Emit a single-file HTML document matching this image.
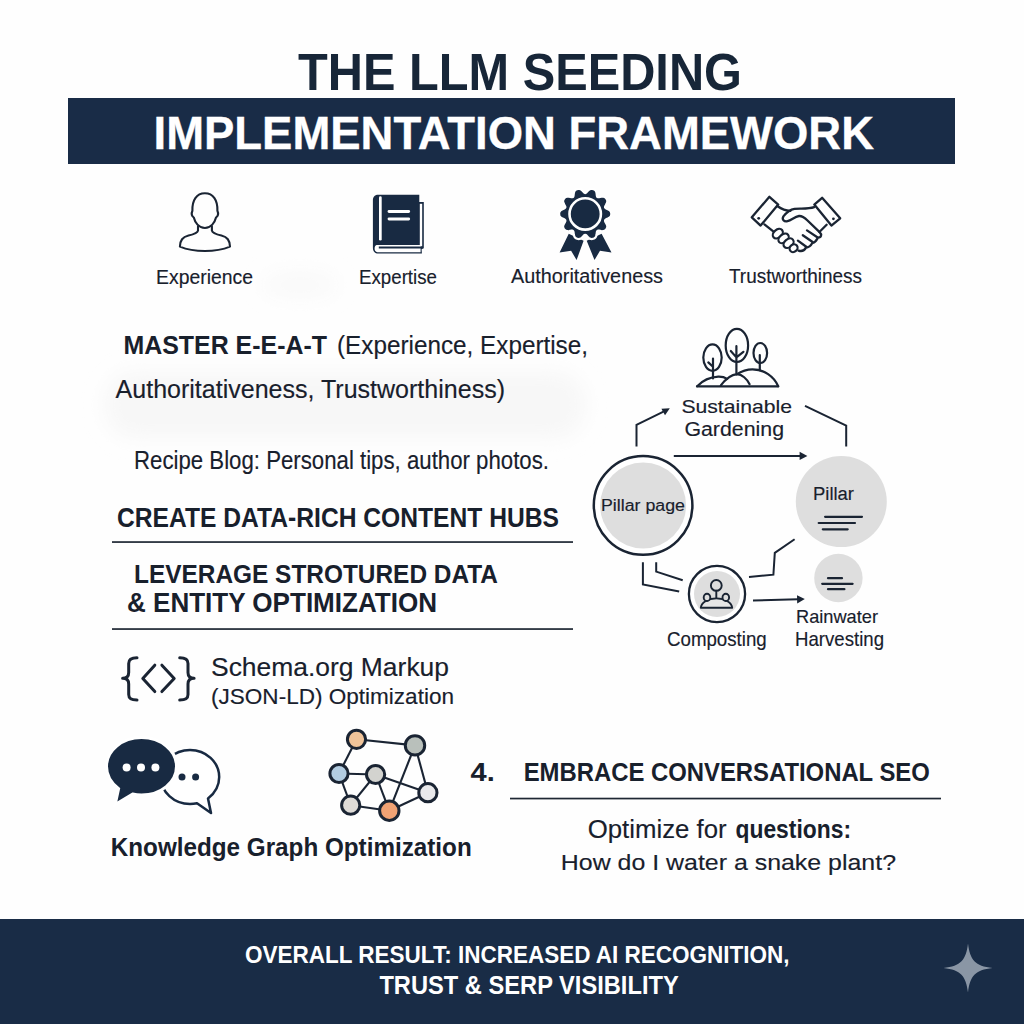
<!DOCTYPE html>
<html><head><meta charset="utf-8"><style>
html,body{margin:0;padding:0;background:#ffffff;overflow:hidden;width:1024px;height:1024px;}
svg{display:block;}
text{font-family:"Liberation Sans",sans-serif;}
</style></head><body>
<svg width="1024" height="1024" viewBox="0 0 1024 1024">
<rect width="1024" height="1024" fill="#fefefe"/>
<defs><filter id="bl" x="-20%" y="-50%" width="140%" height="200%"><feGaussianBlur stdDeviation="10"/></filter></defs>
<rect x="105" y="372" width="480" height="66" rx="30" fill="#f7f7f7" filter="url(#bl)"/>
<ellipse cx="300" cy="285" rx="38" ry="14" fill="#f9f9f9" filter="url(#bl)"/>
<rect x="68" y="98" width="887" height="66" fill="#192c47"/>
<rect x="0" y="919" width="1024" height="105" fill="#192c46"/>
<path d="M968 943.5 C970 960 975 966 992.5 968 C975 970 970 976 968 992.5 C966 976 961 970 943.5 968 C961 966 966 960 968 943.5Z" fill="#8a96a5"/>
<rect x="112" y="541.2" width="461" height="1.7" fill="#1e2733"/>
<rect x="112" y="628.2" width="461" height="1.7" fill="#1e2733"/>
<rect x="510" y="797.7" width="431" height="1.7" fill="#1e2733"/>
<g fill="none" stroke="#1a2433" stroke-width="2.1" stroke-linejoin="round" stroke-linecap="round">
<path d="M193.8 217.5 C192 216.2 191.2 213.5 192.4 210.8 C192 200.5 196.5 193.2 204.9 193.2 C213.3 193.2 217.8 200.5 217.4 210.8 C218.6 213.5 217.8 216.2 216 217.5 C214.8 222.5 211 228 204.9 228 C198.8 228 195 222.5 193.8 217.5 Z"/>
<path d="M198 226.2 L198 230.6 C197.5 233 194 234.2 188.5 235.6 C182.5 237.2 180.2 240 179.9 246.6 C188 250 197 251 204.9 251 C212.8 251 221.8 250 230 246.6 C229.7 240 227.4 237.2 221.4 235.6 C215.9 234.2 212.4 233 211.9 230.6 L211.9 226.2"/>
</g>
<path d="M377.9 194.8 H419.3 V202 H423.8 V248.2 L421.6 249.2 L421.9 253.6 H378.2 C375 253.6 372.9 251.2 372.9 248 V200.2 C372.9 197 375 194.8 377.9 194.8 Z" fill="#182a42"/>
<rect x="419.8" y="203.8" width="2.4" height="42.4" fill="#fff"/>
<path d="M376.5 244.9 H420.6 V246.6 H378.8 V248.6 H420.6 V252.2 H377.4 C375.6 252.2 374.6 250.6 374.6 248.6 C374.6 246.6 375.3 245.2 376.5 244.9 Z" fill="#fff"/>
<rect x="379" y="196.2" width="2.7" height="44.4" rx="1.3" fill="#fff"/>
<rect x="387.6" y="209.9" width="22.5" height="3.1" rx="1.4" fill="#fff"/>
<rect x="387.6" y="217.4" width="22.5" height="3.1" rx="1.4" fill="#fff"/>
<path d="M568.75 233.8 L583.6 240.8 L576.6 260 L571.1 250.8 L559.6 252.4 Z" fill="#182a42"/>
<path d="M601.6 233.8 L586.7 240.8 L594.5 260 L600 250.8 L611.5 252.4 Z" fill="#182a42"/>
<path d="M611.30,213.90 L611.26,213.08 L611.10,212.27 L610.77,211.48 L610.21,210.74 L609.40,210.07 L608.38,209.48 L607.28,208.96 L606.26,208.49 L605.48,208.01 L605.08,207.44 L605.07,206.74 L605.42,205.90 L605.97,204.91 L606.55,203.85 L607.03,202.78 L607.29,201.76 L607.31,200.83 L607.11,200.00 L606.76,199.25 L606.32,198.56 L605.80,197.92 L605.19,197.36 L604.46,196.92 L603.58,196.64 L602.52,196.58 L601.36,196.70 L600.16,196.93 L599.06,197.15 L598.15,197.21 L597.48,196.99 L597.07,196.43 L596.85,195.54 L596.72,194.42 L596.57,193.22 L596.32,192.07 L595.93,191.09 L595.40,190.33 L594.75,189.77 L594.03,189.37 L593.27,189.08 L592.47,188.87 L591.65,188.77 L590.80,188.84 L589.92,189.14 L589.03,189.70 L588.16,190.49 L587.33,191.37 L586.57,192.20 L585.86,192.79 L585.20,193.00 L584.54,192.79 L583.83,192.20 L583.07,191.37 L582.24,190.49 L581.37,189.70 L580.48,189.14 L579.60,188.84 L578.75,188.77 L577.93,188.87 L577.13,189.08 L576.37,189.37 L575.65,189.77 L575.00,190.33 L574.47,191.09 L574.08,192.07 L573.83,193.22 L573.68,194.42 L573.55,195.54 L573.33,196.43 L572.92,196.99 L572.25,197.21 L571.34,197.15 L570.24,196.93 L569.04,196.70 L567.88,196.58 L566.82,196.64 L565.94,196.92 L565.21,197.36 L564.60,197.92 L564.08,198.56 L563.64,199.25 L563.29,200.00 L563.09,200.83 L563.11,201.76 L563.37,202.78 L563.85,203.85 L564.43,204.91 L564.98,205.90 L565.33,206.74 L565.32,207.44 L564.92,208.01 L564.14,208.49 L563.12,208.96 L562.02,209.48 L561.00,210.07 L560.19,210.74 L559.63,211.48 L559.30,212.27 L559.14,213.08 L559.10,213.90 L559.14,214.72 L559.30,215.53 L559.63,216.32 L560.19,217.06 L561.00,217.73 L562.02,218.32 L563.12,218.84 L564.14,219.31 L564.92,219.79 L565.32,220.36 L565.33,221.06 L564.98,221.90 L564.43,222.89 L563.85,223.95 L563.37,225.02 L563.11,226.04 L563.09,226.97 L563.29,227.80 L563.64,228.55 L564.08,229.24 L564.60,229.88 L565.21,230.44 L565.94,230.88 L566.82,231.16 L567.88,231.22 L569.04,231.10 L570.24,230.87 L571.34,230.65 L572.25,230.59 L572.92,230.81 L573.33,231.37 L573.55,232.26 L573.68,233.38 L573.83,234.58 L574.08,235.73 L574.47,236.71 L575.00,237.47 L575.65,238.03 L576.37,238.43 L577.13,238.72 L577.93,238.93 L578.75,239.03 L579.60,238.96 L580.48,238.66 L581.37,238.10 L582.24,237.31 L583.07,236.43 L583.83,235.60 L584.54,235.01 L585.20,234.80 L585.86,235.01 L586.57,235.60 L587.33,236.43 L588.16,237.31 L589.03,238.10 L589.92,238.66 L590.80,238.96 L591.65,239.03 L592.47,238.93 L593.27,238.72 L594.03,238.43 L594.75,238.03 L595.40,237.47 L595.93,236.71 L596.32,235.73 L596.57,234.58 L596.72,233.38 L596.85,232.26 L597.07,231.37 L597.48,230.81 L598.15,230.59 L599.06,230.65 L600.16,230.87 L601.36,231.10 L602.52,231.22 L603.58,231.16 L604.46,230.88 L605.19,230.44 L605.80,229.88 L606.32,229.24 L606.76,228.55 L607.11,227.80 L607.31,226.97 L607.29,226.04 L607.03,225.02 L606.55,223.95 L605.97,222.89 L605.42,221.90 L605.07,221.06 L605.08,220.36 L605.48,219.79 L606.26,219.31 L607.28,218.84 L608.38,218.32 L609.40,217.73 L610.21,217.06 L610.77,216.32 L611.10,215.53 L611.26,214.72Z" fill="#182a42" stroke="#fff" stroke-width="2.2"/>
<circle cx="585.2" cy="213.9" r="15.7" fill="none" stroke="#fff" stroke-width="2.6"/>
<g fill="none" stroke="#1a2433" stroke-width="2.3" stroke-linejoin="round" stroke-linecap="round">
<path d="M751.8 217.3 L769.4 196.8 L778.2 204.6 L760.6 225.6 Z"/>
<path d="M822.1 197.8 L840.2 218.3 L831.4 225.6 L814.3 204.6 Z"/>
<path d="M777.6 206.2 C781.5 209 785.5 210.6 790.5 210.8"/>
<path d="M814.2 207.2 C808 209.4 800 208.2 794.5 208.8 C790 209.4 786 213 783.4 216.4 C781.6 219.4 784 222 787.5 221.2 C791.5 220.4 794.5 216.6 799 216 C802.5 215.8 805 218 807.5 220.5 L819.6 232.2"/>
<path d="M826.6 224.8 L819.6 231.8"/>
<path d="M764.4 224.4 L774.2 232.2"/>
<path d="M819.6 232.2 C822 234.5 821.5 237.5 818 237.6 C816.5 240 815.6 242.8 812.5 242.8 C811 245.5 809.5 247.6 806 247.6 C804.5 250.4 801.5 251.6 798.5 250.6"/>
<path d="M807 230.4 L817.3 237.2"/>
<path d="M802.8 235.2 L812.6 242"/>
<path d="M797.9 240.6 L806.6 247"/>
</g>
<g fill="#fff" stroke="#1a2433" stroke-width="2.2">
<ellipse cx="777.8" cy="233.6" rx="5.6" ry="4" transform="rotate(-40 777.8 233.6)"/>
<ellipse cx="783.6" cy="238.4" rx="5.8" ry="4" transform="rotate(-40 783.6 238.4)"/>
<ellipse cx="788.6" cy="243.2" rx="5.6" ry="4" transform="rotate(-40 788.6 243.2)"/>
<ellipse cx="793.6" cy="248.2" rx="4.2" ry="3.6" transform="rotate(-40 793.6 248.2)"/>
</g>
<circle cx="758.7" cy="218.3" r="1.4" fill="#1a2433"/><circle cx="833.4" cy="218.8" r="1.4" fill="#1a2433"/>
<g fill="none" stroke="#1a2433" stroke-width="3" stroke-linecap="round" stroke-linejoin="round">
<path d="M137 657.8 C131 657.8 128.7 659.5 128.7 663.5 V672.5 C128.7 676 126.5 678.3 122.6 678.3 C126.5 678.3 128.7 680.6 128.7 684 V694.5 C128.7 698.5 131 700 137 700"/>
<path d="M179.7 657.8 C185.7 657.8 188 659.5 188 663.5 V672.5 C188 676 190.2 678.3 194.1 678.3 C190.2 678.3 188 680.6 188 684 V694.5 C188 698.5 185.7 700 179.7 700"/>
<path d="M154.8 665.2 L142.8 678.4 L154.8 691.6"/>
<path d="M161.9 665.2 L174.2 678.4 L161.9 691.6"/>
</g>
<path d="M190 750 C206 750 219.2 762 219.2 777 C219.2 786 214.5 793.5 208 798.5 L211 813 L197 803.2 C194.8 803.7 192.5 804 190 804 C174 804 160.8 792 160.8 777 C160.8 762 174 750 190 750 Z" fill="#fff" stroke="#182a42" stroke-width="2.5" stroke-linejoin="round"/>
<path d="M141.5 737.5 C161 737.5 176.5 750.5 176.5 766.3 C176.5 782.2 161 795 141.5 795 C138.5 795 135.5 794.7 132.6 794 L115.2 804.5 L118.6 788.6 C111 783 106.5 775 106.5 766.3 C106.5 750.5 122 737.5 141.5 737.5 Z" fill="#182a42" stroke="#fff" stroke-width="3"/>
<circle cx="126.6" cy="767.4" r="4" fill="#fff"/><circle cx="141" cy="767.4" r="4" fill="#fff"/><circle cx="155.4" cy="767.4" r="4" fill="#fff"/>
<circle cx="182" cy="777" r="3.5" fill="#182a42"/><circle cx="195.6" cy="777" r="3.5" fill="#182a42"/>
<g stroke="#1a2433" stroke-width="2.1">
<line x1="356.5" y1="739.3" x2="415" y2="745.4"/>
<line x1="356.5" y1="739.3" x2="339" y2="773.5"/>
<line x1="339" y1="773.5" x2="375.6" y2="774.5"/>
<line x1="339" y1="773.5" x2="350.7" y2="805.2"/>
<line x1="375.6" y1="774.5" x2="350.7" y2="805.2"/>
<line x1="375.6" y1="774.5" x2="389.3" y2="810.7"/>
<line x1="375.6" y1="774.5" x2="427.9" y2="792.7"/>
<line x1="415" y1="745.4" x2="389.3" y2="810.7"/>
<line x1="415" y1="745.4" x2="427.9" y2="792.7"/>
<line x1="350.7" y1="805.2" x2="389.3" y2="810.7"/>
<line x1="389.3" y1="810.7" x2="427.9" y2="792.7"/>
<circle cx="356.5" cy="739.3" r="9.1" fill="#f0c49a" stroke-width="3"/>
<circle cx="415" cy="745.4" r="9.7" fill="#b9c0bb" stroke-width="3"/>
<circle cx="339" cy="773.5" r="9.1" fill="#b3cde2" stroke-width="3"/>
<circle cx="375.6" cy="774.5" r="9.1" fill="#d3d3cf" stroke-width="3"/>
<circle cx="427.9" cy="792.7" r="9.1" fill="#e9e9eb" stroke-width="3"/>
<circle cx="350.7" cy="805.2" r="9.1" fill="#dedbd7" stroke-width="3"/>
<circle cx="389.3" cy="810.7" r="9.7" fill="#f0a274" stroke-width="3"/>
</g><g fill="none" stroke="#1a2433" stroke-width="2.2" stroke-linecap="round" stroke-linejoin="round">
<ellipse cx="712.5" cy="357.6" rx="9.2" ry="13.2"/>
<path d="M713 358.5 V378.4 M708.3 362.4 L713 366.8"/>
<ellipse cx="736.9" cy="345.4" rx="11.2" ry="16.6"/>
<path d="M736.4 346.2 V373 M730.8 351 L736.4 357.4 L743.4 351.8"/>
<ellipse cx="760.3" cy="353" rx="6.8" ry="10"/>
<path d="M759.8 355 V370.2"/>
<path d="M697 386.4 H778.2"/>
<path d="M697.2 386.2 C703 380 711 377 718.3 376.6 C722 376.5 725 377.4 727.1 378.8"/>
<path d="M720.8 385.4 C725 380 730.5 374.8 736.9 374.2 C742 374.2 747 379 749.6 384.2"/>
<path d="M736.4 374.4 C741 371.5 746.5 369.3 752.5 369.3 C764 369.3 774 376.5 778.2 386.2"/>
</g>
<g fill="none" stroke="#1a2433" stroke-width="2.0" stroke-linejoin="miter">
<polyline points="636.5,446.5 636.5,424.8 663.5,411.6"/>
<polyline points="805,405.8 846.2,425.6 846.2,446.4"/>
<line x1="673.8" y1="455.9" x2="801" y2="455.9"/>
<polyline points="642.9,562.3 642.9,584.5 679.2,591.6"/>
<polyline points="656.2,562.3 656.2,571.6 682.7,580.3"/>
<polyline points="749,577 773.4,574.7 774.8,552.9 794.6,539.2"/>
<line x1="753" y1="600.5" x2="798" y2="599.3"/>
</g>
<g fill="#1a2433">
<path d="M669.8 408.2 L661.4 408.8 L665 415.2 Z"/>
<path d="M807.4 455.9 L799.6 451.8 L799.6 460 Z"/>
<path d="M804.8 599.1 L797 595.2 L797.2 603.4 Z"/>
</g>
<circle cx="643.1" cy="505.4" r="49.3" fill="#fff" stroke="#1a2433" stroke-width="2.5"/>
<circle cx="643.1" cy="505.4" r="43" fill="#dedede"/>
<circle cx="841.3" cy="501.6" r="45.5" fill="#dedede"/>
<circle cx="838.4" cy="578" r="24.2" fill="#dedede"/>
<circle cx="717" cy="594" r="28.1" fill="#fff" stroke="#1a2433" stroke-width="2.3"/>
<circle cx="717" cy="594" r="23" fill="#dedede"/>
<g stroke="#1a2433" stroke-width="2.2" stroke-linecap="round">
<line x1="825.1" y1="516.8" x2="862" y2="516.8"/>
<line x1="818.7" y1="523" x2="855" y2="523"/>
<line x1="822.8" y1="529.3" x2="847.7" y2="529.3"/>
<line x1="828" y1="578.2" x2="842" y2="578.2"/>
<line x1="822.2" y1="583.8" x2="852.6" y2="583.8"/>
<line x1="828" y1="589.2" x2="844.4" y2="589.2"/>
</g>
<g fill="none" stroke="#1a2433" stroke-width="1.9" stroke-linecap="round" stroke-linejoin="round">
<circle cx="716.3" cy="585.4" r="5.4"/>
<line x1="716.3" y1="590.8" x2="716.3" y2="598.4"/>
<path d="M700.8 607.8 C701.2 603 707.5 598.4 716.4 598.4 C725.3 598.4 731.8 603 732.2 607.8 Z" fill="#e6e6e6"/>
<ellipse cx="707" cy="597.4" rx="3.3" ry="3.6" fill="#dedede"/>
<ellipse cx="725.8" cy="597.4" rx="3.3" ry="3.6" fill="#dedede"/>
</g>
<text x="298.0" y="89.6" font-size="51.02" font-weight="bold" fill="#172638" textLength="444.0" lengthAdjust="spacingAndGlyphs" >THE LLM SEEDING</text>
<text x="153.5" y="148.5" font-size="46.22" font-weight="bold" fill="#ffffff" textLength="720.5" lengthAdjust="spacingAndGlyphs" stroke="#ffffff" stroke-width="0.3">IMPLEMENTATION FRAMEWORK</text>
<text x="156.0" y="284.0" font-size="20.79" font-weight="normal" fill="#18202c" textLength="97.0" lengthAdjust="spacingAndGlyphs"  stroke="#18202c" stroke-width="0.15">Experience</text>
<text x="359.0" y="284.0" font-size="20.79" font-weight="normal" fill="#18202c" textLength="78.0" lengthAdjust="spacingAndGlyphs"  stroke="#18202c" stroke-width="0.15">Expertise</text>
<text x="511.0" y="283.0" font-size="20.79" font-weight="normal" fill="#18202c" textLength="152.0" lengthAdjust="spacingAndGlyphs"  stroke="#18202c" stroke-width="0.15">Authoritativeness</text>
<text x="729.0" y="283.0" font-size="19.33" font-weight="normal" fill="#18202c" textLength="133.0" lengthAdjust="spacingAndGlyphs"  stroke="#18202c" stroke-width="0.15">Trustworthiness</text>
<text x="123.4" y="354.0" font-size="25.15" font-weight="bold" fill="#18202c" textLength="203.6" lengthAdjust="spacingAndGlyphs" >MASTER E-E-A-T</text>
<text x="337.0" y="354.0" font-size="25.15" font-weight="normal" fill="#18202c" textLength="251.0" lengthAdjust="spacingAndGlyphs"  stroke="#18202c" stroke-width="0.15">(Experience, Expertise,</text>
<text x="115.6" y="398.0" font-size="25.73" font-weight="normal" fill="#18202c" textLength="389.4" lengthAdjust="spacingAndGlyphs"  stroke="#18202c" stroke-width="0.15">Authoritativeness, Trustworthiness)</text>
<text x="134.0" y="469.0" font-size="25.15" font-weight="normal" fill="#18202c" textLength="415.0" lengthAdjust="spacingAndGlyphs"  stroke="#18202c" stroke-width="0.15">Recipe Blog: Personal tips, author photos.</text>
<text x="117.0" y="526.6" font-size="27.47" font-weight="bold" fill="#18202c" textLength="442.0" lengthAdjust="spacingAndGlyphs" >CREATE DATA-RICH CONTENT HUBS</text>
<text x="134.0" y="583.0" font-size="26.60" font-weight="bold" fill="#18202c" textLength="364.0" lengthAdjust="spacingAndGlyphs" >LEVERAGE STROTURED DATA</text>
<text x="127.0" y="612.0" font-size="27.33" font-weight="bold" fill="#18202c" textLength="310.0" lengthAdjust="spacingAndGlyphs" >&amp; ENTITY OPTIMIZATION</text>
<text x="211.0" y="676.0" font-size="26.60" font-weight="normal" fill="#18202c" textLength="238.0" lengthAdjust="spacingAndGlyphs"  stroke="#18202c" stroke-width="0.15">Schema.org Markup</text>
<text x="211.0" y="704.0" font-size="22.24" font-weight="normal" fill="#18202c" textLength="243.0" lengthAdjust="spacingAndGlyphs"  stroke="#18202c" stroke-width="0.15">(JSON-LD) Optimization</text>
<text x="110.8" y="855.6" font-size="26.02" font-weight="bold" fill="#18202c" textLength="360.9" lengthAdjust="spacingAndGlyphs" >Knowledge Graph Optimization</text>
<text x="470.5" y="781.0" font-size="26.60" font-weight="bold" fill="#18202c" textLength="24.2" lengthAdjust="spacingAndGlyphs" >4.</text>
<text x="523.7" y="781.0" font-size="26.60" font-weight="bold" fill="#18202c" textLength="406.1" lengthAdjust="spacingAndGlyphs" >EMBRACE CONVERSATIONAL SEO</text>
<text x="587.7" y="838.0" font-size="25.15" font-weight="normal" fill="#18202c" textLength="139.0" lengthAdjust="spacingAndGlyphs"  stroke="#18202c" stroke-width="0.15">Optimize for</text>
<text x="735.5" y="838.0" font-size="25.15" font-weight="bold" fill="#18202c" textLength="115.5" lengthAdjust="spacingAndGlyphs" >questions:</text>
<text x="560.8" y="869.5" font-size="22.97" font-weight="normal" fill="#18202c" textLength="335.2" lengthAdjust="spacingAndGlyphs"  stroke="#18202c" stroke-width="0.15">How do I water a snake plant?</text>
<text x="681.4" y="413.0" font-size="18.31" font-weight="normal" fill="#18202c" textLength="110.6" lengthAdjust="spacingAndGlyphs"  stroke="#18202c" stroke-width="0.15">Sustainable</text>
<text x="684.4" y="436.0" font-size="20.79" font-weight="normal" fill="#18202c" textLength="99.6" lengthAdjust="spacingAndGlyphs"  stroke="#18202c" stroke-width="0.15">Gardening</text>
<text x="601.0" y="511.0" font-size="16.42" font-weight="normal" fill="#18202c" textLength="84.0" lengthAdjust="spacingAndGlyphs"  stroke="#18202c" stroke-width="0.15">Pillar page</text>
<text x="813.0" y="500.0" font-size="17.88" font-weight="normal" fill="#18202c" textLength="41.0" lengthAdjust="spacingAndGlyphs"  stroke="#18202c" stroke-width="0.15">Pillar</text>
<text x="667.0" y="645.8" font-size="19.48" font-weight="normal" fill="#18202c" textLength="99.7" lengthAdjust="spacingAndGlyphs"  stroke="#18202c" stroke-width="0.15">Composting</text>
<text x="796.0" y="623.0" font-size="18.17" font-weight="normal" fill="#18202c" textLength="82.0" lengthAdjust="spacingAndGlyphs"  stroke="#18202c" stroke-width="0.15">Rainwater</text>
<text x="795.0" y="645.8" font-size="19.48" font-weight="normal" fill="#18202c" textLength="89.0" lengthAdjust="spacingAndGlyphs"  stroke="#18202c" stroke-width="0.15">Harvesting</text>
<text x="245.0" y="963.0" font-size="24.56" font-weight="bold" fill="#ffffff" textLength="544.6" lengthAdjust="spacingAndGlyphs" >OVERALL RESULT: INCREASED AI RECOGNITION,</text>
<text x="379.4" y="994.3" font-size="26.16" font-weight="bold" fill="#ffffff" textLength="299.3" lengthAdjust="spacingAndGlyphs" >TRUST &amp; SERP VISIBILITY</text>
</svg>
</body></html>
